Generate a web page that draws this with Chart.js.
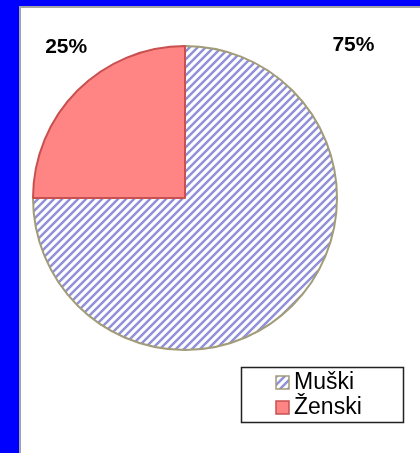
<!DOCTYPE html>
<html>
<head>
<meta charset="utf-8">
<script src="https://cdn.jsdelivr.net/npm/chart.js@4.4.1/dist/chart.umd.min.js"></script>
<style>
    html, body { margin: 0; padding: 0; background: #0000ff; overflow: hidden; }
    #frame {
        position: absolute; left: 19px; top: 6px;
        width: 401px; height: 447px; box-sizing: border-box;
        border-left: 2px solid #a4a4a4; border-top: 2px solid #a4a4a4;
        background: #fff;
    }
    canvas { display: block; }
</style>
</head>
<body>
<div id="frame"><canvas id="genderChart" width="399" height="445"></canvas></div>
<script>
const categories = ['Muški', 'Ženski'];
const shares = [75, 25];
const shareLabels = ['75%', '25%'];

const canvas = document.getElementById('genderChart');
const ctx = canvas.getContext('2d');

// diagonal blue hatch used for the "Muški" slice
function hatchTile() {
    const tile = document.createElement('canvas');
    tile.width = 8;
    tile.height = 8;
    const c = tile.getContext('2d');
    c.fillStyle = '#ffffff';
    c.fillRect(0, 0, 8, 8);
    c.strokeStyle = '#9191d8';
    c.lineWidth = 2.5;
    c.beginPath();
    c.moveTo(0, 8); c.lineTo(8, 0);
    c.moveTo(-2, 2); c.lineTo(2, -2);
    c.moveTo(6, 10); c.lineTo(10, 6);
    c.stroke();
    return tile;
}
const hatch = ctx.createPattern(hatchTile(), 'repeat');

const fills = [hatch, '#ff8585'];
const borders = ['#a29c78', '#c85050'];

// where each percentage sits, as a fraction of the radius from the centre
const labelOffsets = [[0.97, -0.97], [-0.92, -0.955]];

const extrasPlugin = {
    id: 'extras',
    afterDraw(chart) {
        const c = chart.ctx;
        const arcs = chart.getDatasetMeta(0).data;

        c.save();
        c.fillStyle = '#000';
        c.font = 'bold 21px "Liberation Sans", Arial, sans-serif';
        c.textAlign = 'left';
        c.textBaseline = 'alphabetic';
        arcs.forEach(function (arc, i) {
            const r = arc.outerRadius;
            c.fillText(shareLabels[i], arc.x + labelOffsets[i][0] * r, arc.y + labelOffsets[i][1] * r);
        });

        // legend box
        const box = { x: 220, y: 359, w: 162, h: 55 };
        c.strokeStyle = '#222';
        c.lineWidth = 1.5;
        c.strokeRect(box.x + 0.5, box.y + 0.5, box.w, box.h);
        c.font = '23px "Liberation Sans", Arial, sans-serif';
        categories.forEach(function (name, i) {
            const base = box.y + 22 + i * 25;
            c.fillStyle = fills[i];
            c.fillRect(box.x + 35, base - 13, 13, 13);
            c.strokeStyle = borders[i];
            c.lineWidth = 1.5;
            c.strokeRect(box.x + 35, base - 13, 13, 13);
            c.fillStyle = '#000';
            c.fillText(name, box.x + 53, base);
        });
        c.restore();
    }
};

new Chart(ctx, {
    type: 'pie',
    data: {
        labels: categories,
        datasets: [{
            data: shares,
            backgroundColor: fills,
            borderColor: borders,
            borderWidth: 2
        }]
    },
    options: {
        responsive: false,
        animation: false,
        radius: 152,
        layout: {
            padding: { left: 0, top: 0, right: 71, bottom: 65 }
        },
        plugins: {
            legend: { display: false },
            tooltip: { enabled: false }
        }
    },
    plugins: [extrasPlugin]
});
</script>
</body>
</html>
